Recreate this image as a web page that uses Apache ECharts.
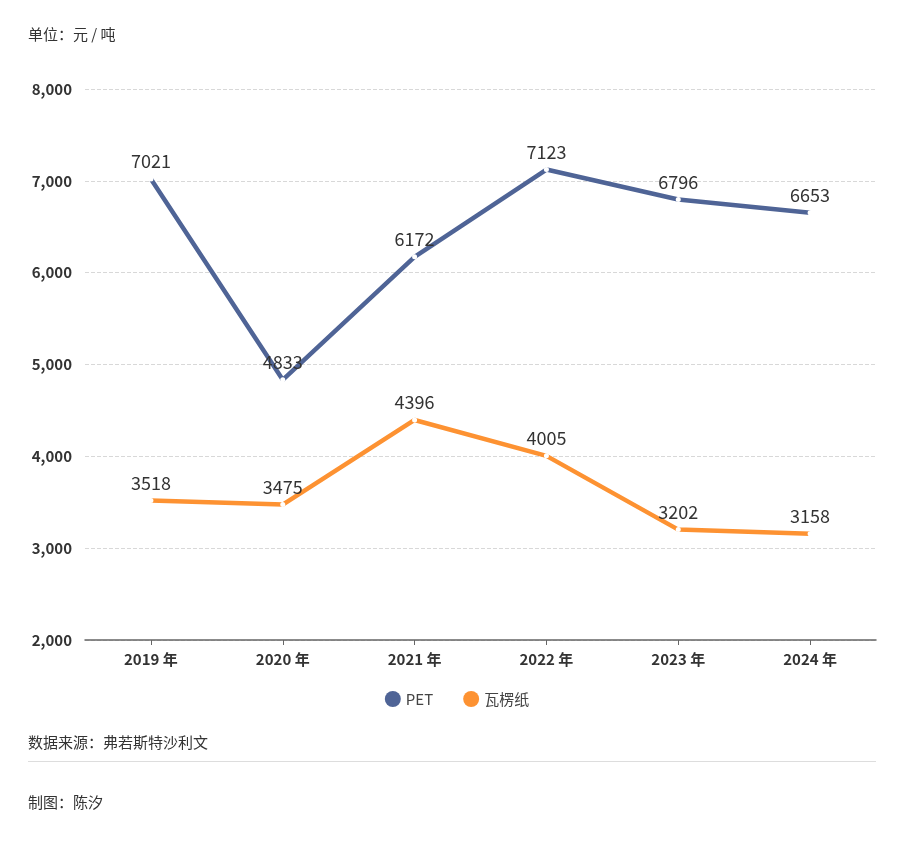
<!DOCTYPE html><html><head><meta charset="utf-8">
<script src="https://cdn.jsdelivr.net/npm/echarts@6/dist/echarts.min.js"></script>
<style>body{margin:0;background:#fff}#c{width:914px;height:848px}</style></head><body><div id="c"></div>
<script>
const categories=['2019 年','2020 年','2021 年','2022 年','2023 年','2024 年'];
const pet=[7021,4833,6172,7123,6796,6653];
const paper=[3518,3475,4396,4005,3202,3158];
const F='"Noto Sans CJK SC","Noto Sans",sans-serif';
const mk=(name,data,color)=>({name,type:'line',data,symbol:'circle',symbolSize:5,
 itemStyle:{color:'#fff',borderWidth:0},lineStyle:{color,width:4.5},
 label:{show:true,position:'top',fontSize:18,color:'#333',fontFamily:F,distance:6}});
const ch=echarts.init(document.getElementById('c'));
ch.setOption({
 animation:false,
 graphic:[
  {type:'text',left:28,top:27,style:{text:'单位：元 / 吨',fontSize:15,fill:'#333',fontFamily:F}},
  {type:'text',left:28,top:735,style:{text:'数据来源：弗若斯特沙利文',fontSize:15,fill:'#333',fontFamily:F}},
  {type:'rect',shape:{x:28,y:761,width:848,height:1},style:{fill:'#ddd'}},
  {type:'text',left:28,top:795,style:{text:'制图：陈汐',fontSize:15,fill:'#333',fontFamily:F}}
 ],
 legend:{top:686,left:'center',itemWidth:16,itemHeight:16,itemGap:30,icon:'circle',
  textStyle:{fontSize:15,color:'#444',fontFamily:F},
  data:[{name:'PET',itemStyle:{color:'#4f6496'}},{name:'瓦楞纸',itemStyle:{color:'#fd9232'}}]},
 grid:{left:85,right:38,top:89,bottom:208},
 xAxis:{type:'category',data:categories,boundaryGap:true,
  axisLine:{lineStyle:{color:'#666',width:1.5}},axisTick:{show:true,alignWithLabel:true,length:5,lineStyle:{color:'#666'}},
  axisLabel:{fontSize:15,fontWeight:'bold',color:'#333',fontFamily:F,margin:12}},
 yAxis:{type:'value',min:2000,max:8000,interval:1000,
  axisLabel:{fontSize:15,fontWeight:'bold',color:'#333',fontFamily:F,margin:13,align:'right'},
  splitLine:{lineStyle:{type:'dashed',color:'#d8d8d8'}},axisLine:{show:false},axisTick:{show:false}},
 series:[mk('PET',pet,'#4f6496'),mk('瓦楞纸',paper,'#fd9232')]
});
</script></body></html>
